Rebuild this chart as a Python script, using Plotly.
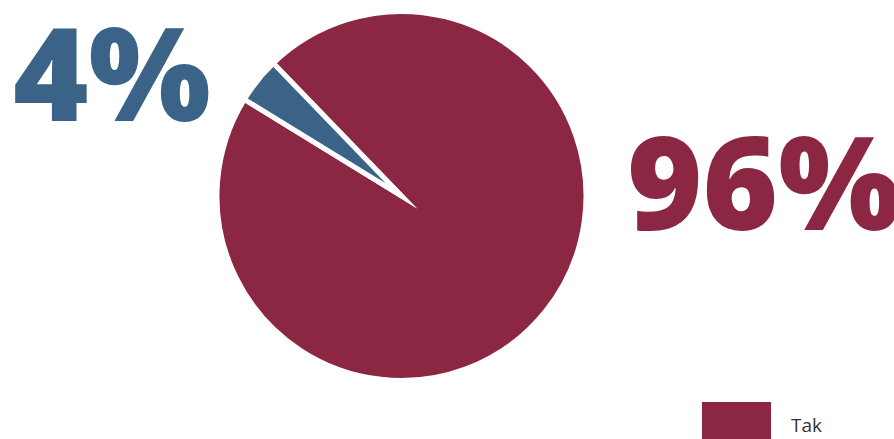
import plotly.graph_objects as go

labels = ["Tak", "Nie"]
values = [96, 4]
colors = ["#8B2743", "#3B6387"]

W, H = 894, 439

fig = go.Figure()
fig.add_trace(go.Pie(
    labels=labels,
    values=values,
    marker=dict(colors=colors, line=dict(color="white", width=5)),
    textinfo="none",
    hoverinfo="label+percent",
    sort=False,
    direction="clockwise",
    rotation=-44,
    showlegend=False,
    domain=dict(x=[0.2427, 0.6555], y=[0.1333, 0.9738]),
))

font_big = "Open Sans, Liberation Sans, sans-serif"
# percentage annotations
pct_pos = {"Nie": (11 / W, 1 - 71 / H), "Tak": (625 / W, 1 - 180 / H)}
annotations = []
for lab, val, col in zip(labels, values, colors):
    x, y = pct_pos[lab]
    annotations.append(dict(
        x=x, y=y, xref="paper", yref="paper", xanchor="left", yanchor="middle",
        text=f"{val}%", showarrow=False,
        font=dict(family=font_big, size=129, color=col, weight=800),
    ))

# custom legend (first item visible)
shapes = [dict(type="rect", xref="paper", yref="paper",
               x0=702 / W, x1=771 / W, y0=1 - 439 / H, y1=1 - 402 / H,
               fillcolor=colors[0], line=dict(width=0))]
annotations.append(dict(
    x=789 / W, y=1 - 425 / H, xref="paper", yref="paper", xanchor="left", yanchor="middle",
    text=labels[0], showarrow=False,
    font=dict(family="Open Sans, sans-serif", size=19, color="#333333"),
))

fig.update_layout(
    width=W, height=H,
    margin=dict(l=0, r=0, t=0, b=0),
    paper_bgcolor="white", plot_bgcolor="white",
    annotations=annotations, shapes=shapes,
)
post = (
    "document.body.style.margin='0';document.body.style.overflow='hidden';"
    "var s=document.createElement('style');"
    "s.textContent='.slice path{stroke-linejoin:miter !important;stroke-miterlimit:20 !important;}';"
    "document.head.appendChild(s);"
)
fig.write_html("out.html", config={"displayModeBar": False}, post_script=post)
